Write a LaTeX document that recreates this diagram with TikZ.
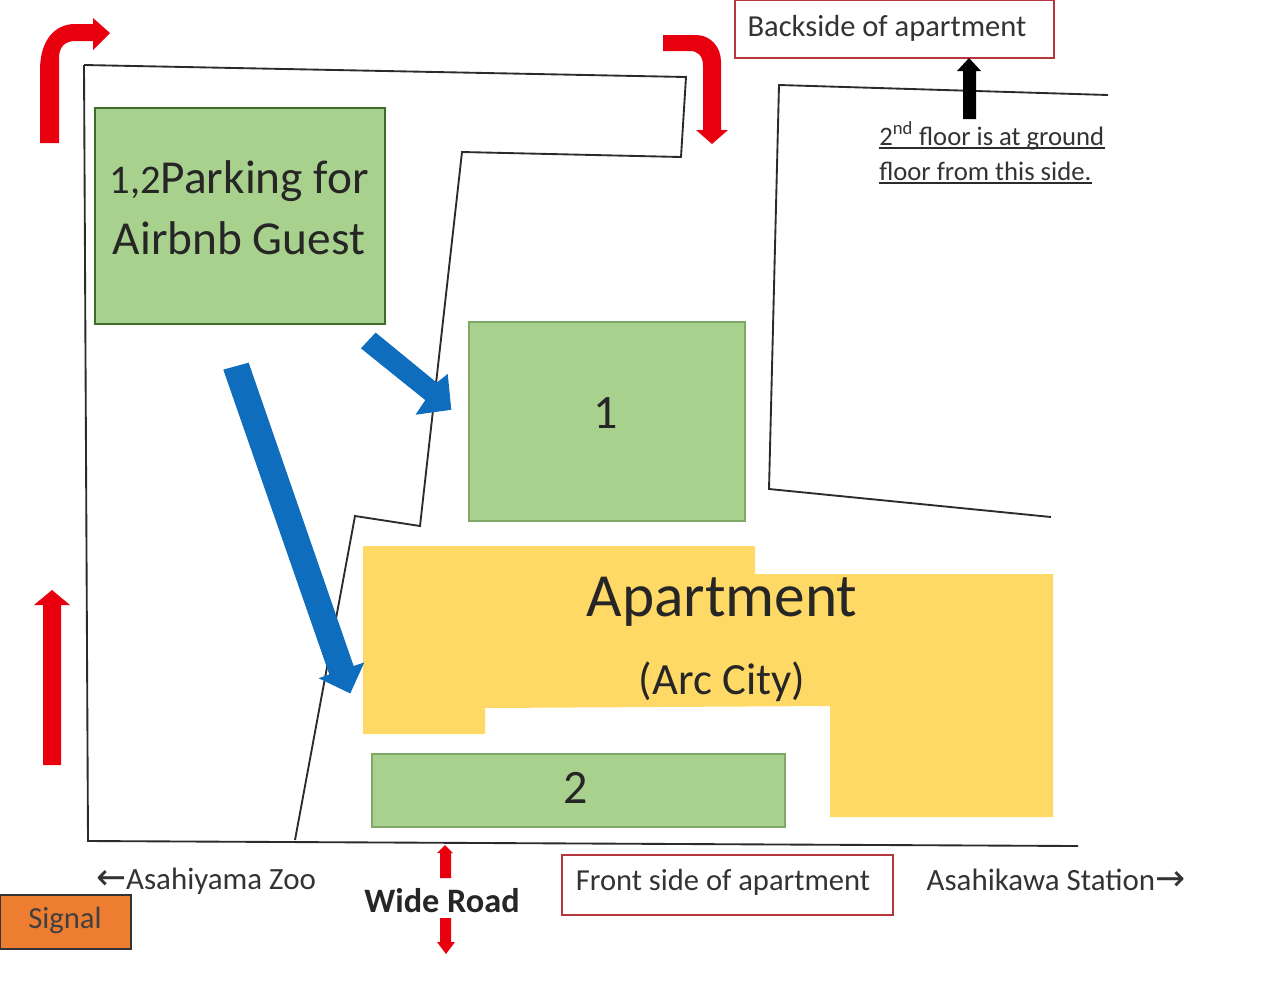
\documentclass[tikz,border=0pt]{standalone}
\usepackage{fontspec}
\setmainfont{Carlito}
\newfontfamily\symfont{DejaVu Sans}
\definecolor{parkgreen}{HTML}{A9D18E}
\definecolor{parkedge}{HTML}{3F6B2A}
\definecolor{softedge}{HTML}{7FA868}
\definecolor{aptyellow}{HTML}{FFD966}
\definecolor{signalorange}{HTML}{ED7D31}
\definecolor{boxred}{HTML}{B5363C}
\definecolor{arrowred}{HTML}{E8000F}
\definecolor{arrowblue}{HTML}{0F6DBD}
\definecolor{inkline}{HTML}{2B2B2B}
\definecolor{inktext}{HTML}{333333}
\newcommand{\pxfont}[1]{\fontsize{#1}{#1}\selectfont}
\tikzset{
  plot line/.style={draw=inkline,line width=1.4pt,line join=miter},
  park box/.style={fill=parkgreen,draw=softedge,line width=.8pt,outer sep=0pt,inner sep=0pt,anchor=north west},
  label box/.style={draw=boxred,line width=.8pt,fill=white,outer sep=0pt,inner sep=0pt,anchor=north west},
  free text/.style={inner sep=0pt,text=inktext,align=left},
  dark text/.style={inner sep=0pt,text=black!85,align=center},
  under rule/.style={draw=inkline,line width=1.5pt},
  blue block/.style={fill=arrowblue,draw=arrowblue,line width=.8pt,line join=miter},
}
\begin{document}
\begin{tikzpicture}[x=.75pt,y=-.75pt]
\useasboundingbox (0,0) rectangle (1280,990);
\fill[white] (0,0) rectangle (1280,990);
% outlines
\draw[plot line] (84,65) -- (686,77) -- (681,157) -- (462,152) -- (420,526) -- (355,516) -- (295,840);
\draw[plot line] (84,65) -- (88,841) -- (1078,846);
\draw[plot line] (1108,95) -- (779,85) -- (769,489) -- (1051,517);
% filled regions
\node[park box,draw=parkedge,line width=1.2pt,minimum width=217.5pt,minimum height=162pt] (parking) at (95,108) {};
\node[park box,minimum width=207pt,minimum height=149.25pt] (one) at (469,322) {};
\node[park box,minimum width=309.75pt,minimum height=54.75pt] (two) at (372,754) {};
\fill[aptyellow] (363,546) -- (755,546) -- (755,574) -- (1053,574) -- (1053,817) -- (830,817) -- (830,706) -- (485,708) -- (485,734) -- (363,734) -- cycle;
\node[label box,minimum width=239.25pt,minimum height=43.5pt] (back) at (735,0) {};
\node[label box,minimum width=248.25pt,minimum height=45pt] (front) at (562,855) {};
\node[fill=signalorange,draw=black!80,line width=1pt,outer sep=0pt,minimum width=98.25pt,minimum height=40.5pt,inner sep=0pt,anchor=north west] (signal) at (0,895) {};
% red arrows
\fill[arrowred] (40,143) -- (40,70) .. controls (40,40) and (55,24) .. (75,24) -- (93,24) -- (93,18) -- (110,33) -- (93,50) -- (93,41) -- (75,41) .. controls (65,41) and (59,47) .. (59,58) -- (59,143) -- cycle;
\fill[arrowred] (663,35) -- (695,35) .. controls (712,35) and (721,48) .. (721,62) -- (721,130) -- (728,130) -- (712,144) -- (696,130) -- (703,130) -- (703,66) .. controls (703,56) and (698,51) .. (690,51) -- (663,51) -- cycle;
\fill[arrowred] (43,765) -- (43,605) -- (34,605) -- (52,590) -- (70,605) -- (61,605) -- (61,765) -- cycle;
\fill[arrowred] (440,878) -- (440,853) -- (437,853) -- (445,845) -- (453,853) -- (451,853) -- (451,878) -- cycle;
\fill[arrowred] (440,918) -- (451,918) -- (451,942) -- (455,942) -- (446,954) -- (437,942) -- (440,942) -- cycle;
% black arrow
\fill[black] (963,119) -- (963,71) -- (957,71) -- (969,58) -- (981,71) -- (976,71) -- (976,119) -- cycle;
% blue arrows
\filldraw[blue block] (224,370) -- (248.3,363.3) -- (353.3,666.7) -- (363.3,663.3) -- (350,692.7) -- (320,678.3) -- (330,674.7) -- cycle;
\filldraw[blue block] (361.7,348.3) -- (375.7,333.3) -- (436.7,383.3) -- (447.3,375) -- (450.7,409.3) -- (416.7,414) -- (426,400) -- cycle;
% texts
\node[dark text] (parkingtext) at (239,208) {\pxfont{30.5}1,2\pxfont{35.5}Parking for\\[14pt]\pxfont{35.5}Airbnb Guest};
\node[dark text] at (606,413) {\pxfont{36}1};
\node[dark text] at (576,788) {\pxfont{36}2};
\node[dark text] at (722,602) {\pxfont{46}Apartment};
\node[dark text] at (722,682) {\pxfont{33.5}(Arc City)};
\node[free text] at (887,28) {\pxfont{22.9}Backside of apartment};
\node[free text] at (723,882) {\pxfont{22.9}Front side of apartment};
\node[free text] at (206,881) {\pxfont{23.2}{\symfont\pxfont{27}←}Asahiyama Zoo};
\node[free text] at (1056,880) {\pxfont{23.2}Asahikawa Station{\symfont\pxfont{27}→}};
\node[dark text] at (442,901) {\pxfont{25.7}\bfseries Wide Road};
\node[dark text,text=black!75] at (65,920) {\pxfont{23}Signal};
\node[free text,anchor=base west] (noteone) at (879,145) {\pxfont{20}2\textsuperscript{nd} floor is at ground};
\node[free text,anchor=base west] (notetwo) at (879,180) {\pxfont{20}floor from this side.};
\draw[under rule] ([yshift=-2.6pt]noteone.base west) -- ([yshift=-2.6pt]noteone.base east);
\draw[under rule] ([yshift=-2.6pt]notetwo.base west) -- ([yshift=-2.6pt]notetwo.base east);
\end{tikzpicture}
\end{document}
